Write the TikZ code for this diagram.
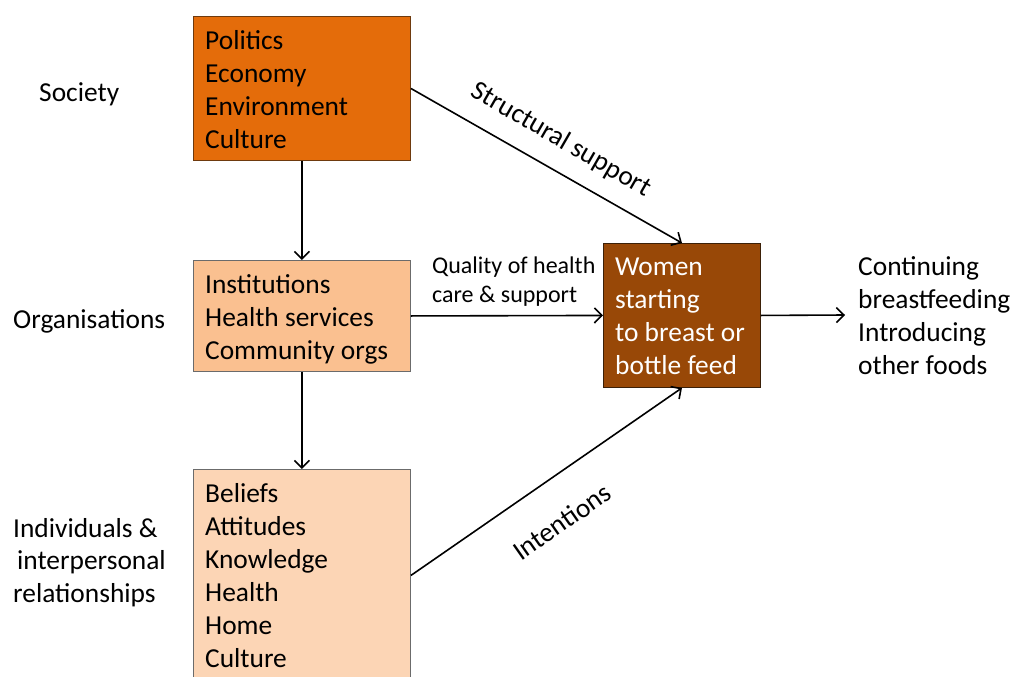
\documentclass[tikz,border=0pt]{standalone}
\usepackage{fontspec}
\setmainfont{Carlito}
\usetikzlibrary{arrows.meta}
\definecolor{socfill}{HTML}{E46C0A}
\definecolor{socdraw}{HTML}{6E3A0E}
\definecolor{orgfill}{HTML}{FAC090}
\definecolor{indfill}{HTML}{FCD5B5}
\definecolor{boxdraw}{HTML}{6B6B6B}
\definecolor{womfill}{HTML}{984807}
\definecolor{womdraw}{HTML}{3B2008}
\begin{document}
\begin{tikzpicture}[x=1pt,y=-1pt,
  box/.style={draw=#1, line width=0.9pt, inner sep=0pt, anchor=north west},
  lbl/.style={font=\fontsize{27.4}{33}\selectfont, align=left, inner sep=0pt, anchor=north west},
  single/.style={font=\fontsize{27.4}{33}\selectfont, inner sep=0pt, anchor=base west},
  rlbl/.style={font=\fontsize{27.4}{33}\selectfont, inner sep=0pt},
  conn/.style={line width=1.6pt, -{Straight Barb[length=7.5pt,width=15pt,line width=1.6pt]}}]
\clip (0,0) rectangle (1017,677);
\fill[white] (0,0) rectangle (1017,677);
% boxes
\node[box=socdraw, fill=socfill, minimum width=217pt, minimum height=144pt] (soc) at (193,16) {};
\node[box=boxdraw, fill=orgfill, minimum width=217pt, minimum height=111pt] (org) at (193,260) {};
\node[box=boxdraw, fill=indfill, minimum width=217pt, minimum height=212pt] (ind) at (193,469) {};
\node[box=womdraw, fill=womfill, minimum width=157pt, minimum height=144pt] (wom) at (603,243) {};
% box texts
\node[lbl] (soct) at (205,27) {\rule{0pt}{22pt}Politics\\Economy\\Environment\\Culture};
\node[lbl] (orgt) at (205,271) {\rule{0pt}{22pt}Institutions\\Health services\\Community orgs};
\node[lbl] (indt) at (205,480) {\rule{0pt}{22pt}Beliefs\\Attitudes\\Knowledge\\Health\\Home\\Culture};
\node[lbl, text=white] (womt) at (615,253) {\rule{0pt}{22pt}Women\\starting\\to breast or\\bottle feed};
\node[lbl] (outt) at (858,253) {\rule{0pt}{22pt}Continuing\\breastfeeding\\Introducing\\other foods};
% level labels
\node[single] (lsoc) at (39,101) {Society};
\node[single] (lorg) at (13,328) {Organisations};
\node[lbl, font=\fontsize{27.4}{32.5}\selectfont] (lind) at (13,515) {\rule{0pt}{22pt}Individuals \&\\\hspace{4pt}interpersonal\\relationships};
% connectors
\coordinate (out) at (845,315);
\draw[conn] (soc.south) -- (org.north);
\draw[conn] (org.south) -- (ind.north);
\draw[conn] (soc.east) -- (wom.north);
\draw[conn] (org.east) -- (wom.west);
\draw[conn] (ind.east) -- (wom.south);
\draw[conn] (wom.east) -- (out);
% connector labels
\node[rlbl, rotate=-30] (lss) at (561,140) {Structural support};
\node[rlbl, rotate=35] (lint) at (562,522) {Intentions};
\node[lbl, font=\fontsize{24}{29}\selectfont] (lq) at (432,254) {\rule{0pt}{19pt}Quality of health\\care \& support};
\end{tikzpicture}
\end{document}
